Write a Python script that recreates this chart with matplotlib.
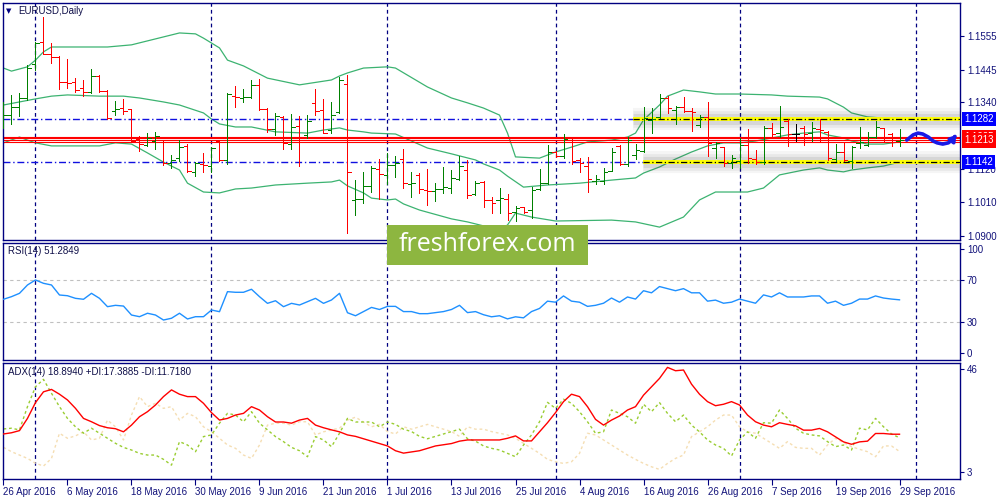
import numpy as np
import pandas as pd
import matplotlib
matplotlib.use('Agg')
import matplotlib.pyplot as plt
from matplotlib.collections import LineCollection
from matplotlib.patches import Rectangle

plt.rcParams['font.family'] = ['Liberation Sans', 'DejaVu Sans']
plt.rcParams['font.size'] = 7

# ---- data ----
dates = pd.bdate_range('2016-04-26', '2016-09-29')

opens = [1.1293, 1.1296, 1.1322, 1.1352, 1.1463, 1.1535, 1.1496, 1.1486, 1.1404, 1.1404,
         1.1385, 1.1372, 1.1424, 1.1375, 1.1309, 1.1319, 1.1316, 1.1218, 1.1198, 1.1211,
         1.1214, 1.1139, 1.1155, 1.1195, 1.1110, 1.1136, 1.1129, 1.1211, 1.1149, 1.1358,
         1.1352, 1.1355, 1.1395, 1.1316, 1.1250, 1.1290, 1.1201, 1.1260, 1.1231, 1.1336,
         1.1313, 1.1247, 1.1306, 1.1398, 1.1018, 1.1021, 1.1064, 1.1119, 1.1100, 1.1133,
         1.1152, 1.1070, 1.1100, 1.1051, 1.1047, 1.1054, 1.1057, 1.1087, 1.1116, 1.1037,
         1.1077, 1.1018, 1.1018, 1.1021, 1.0979, 1.0995, 1.0985, 1.1054, 1.1073, 1.1175,
         1.1162, 1.1221, 1.1149, 1.1129, 1.1080, 1.1080, 1.1113, 1.1195, 1.1136, 1.1165,
         1.1178, 1.1280, 1.1290, 1.1352, 1.1313, 1.1322, 1.1309, 1.1264, 1.1290, 1.1188,
         1.1191, 1.1139, 1.1146, 1.1198, 1.1152, 1.1142, 1.1254, 1.1237, 1.1277, 1.1234,
         1.1254, 1.1237, 1.1250, 1.1241, 1.1152, 1.1175, 1.1146, 1.1205, 1.1198, 1.1224,
         1.1254, 1.1234, 1.1211]
highs = [1.1339, 1.1362, 1.1368, 1.1460, 1.1535, 1.1617, 1.1532, 1.1490, 1.1480, 1.1417,
         1.1411, 1.1447, 1.1427, 1.1378, 1.1342, 1.1349, 1.1316, 1.1227, 1.1237, 1.1241,
         1.1214, 1.1165, 1.1214, 1.1201, 1.1142, 1.1172, 1.1191, 1.1214, 1.1368, 1.1391,
         1.1381, 1.1411, 1.1414, 1.1319, 1.1303, 1.1293, 1.1300, 1.1293, 1.1296, 1.1381,
         1.1349, 1.1339, 1.1421, 1.1427, 1.1083, 1.1110, 1.1129, 1.1152, 1.1172, 1.1162,
         1.1185, 1.1110, 1.1106, 1.1119, 1.1073, 1.1126, 1.1116, 1.1162, 1.1149, 1.1080,
         1.1080, 1.1028, 1.1057, 1.1037, 1.0998, 1.0995, 1.1060, 1.1119, 1.1198, 1.1178,
         1.1234, 1.1224, 1.1155, 1.1159, 1.1100, 1.1123, 1.1188, 1.1198, 1.1224, 1.1201,
         1.1322, 1.1319, 1.1365, 1.1358, 1.1326, 1.1355, 1.1319, 1.1296, 1.1339, 1.1208,
         1.1191, 1.1165, 1.1221, 1.1250, 1.1182, 1.1260, 1.1270, 1.1326, 1.1283, 1.1267,
         1.1260, 1.1273, 1.1283, 1.1244, 1.1201, 1.1208, 1.1195, 1.1257, 1.1241, 1.1277,
         1.1254, 1.1237, 1.1250]
lows = [1.1254, 1.1267, 1.1293, 1.1345, 1.1444, 1.1496, 1.1467, 1.1381, 1.1385, 1.1372,
        1.1358, 1.1368, 1.1372, 1.1283, 1.1296, 1.1300, 1.1211, 1.1178, 1.1195, 1.1185,
        1.1133, 1.1123, 1.1146, 1.1110, 1.1096, 1.1110, 1.1110, 1.1146, 1.1136, 1.1322,
        1.1339, 1.1352, 1.1313, 1.1241, 1.1231, 1.1185, 1.1185, 1.1129, 1.1221, 1.1296,
        1.1237, 1.1237, 1.1303, 1.0910, 1.0969, 1.1008, 1.1044, 1.1021, 1.1070, 1.1093,
        1.1057, 1.1028, 1.1041, 1.1001, 1.1015, 1.1041, 1.1041, 1.1083, 1.1024, 1.1034,
        1.0995, 1.0975, 1.0975, 1.0952, 1.0949, 1.0975, 1.0959, 1.1051, 1.1070, 1.1159,
        1.1155, 1.1136, 1.1110, 1.1044, 1.1070, 1.1070, 1.1113, 1.1133, 1.1129, 1.1152,
        1.1175, 1.1237, 1.1286, 1.1303, 1.1267, 1.1306, 1.1244, 1.1257, 1.1162, 1.1155,
        1.1129, 1.1123, 1.1123, 1.1139, 1.1136, 1.1136, 1.1224, 1.1224, 1.1195, 1.1211,
        1.1198, 1.1211, 1.1208, 1.1149, 1.1146, 1.1146, 1.1123, 1.1188, 1.1195, 1.1221,
        1.1211, 1.1195, 1.1195]
closes = [1.1296, 1.1322, 1.1352, 1.1450, 1.1532, 1.1496, 1.1486, 1.1404, 1.1401, 1.1378,
          1.1372, 1.1424, 1.1375, 1.1286, 1.1316, 1.1309, 1.1211, 1.1201, 1.1221, 1.1227,
          1.1139, 1.1149, 1.1191, 1.1113, 1.1139, 1.1133, 1.1188, 1.1149, 1.1365, 1.1355,
          1.1355, 1.1395, 1.1316, 1.1250, 1.1293, 1.1205, 1.1257, 1.1224, 1.1277, 1.1309,
          1.1237, 1.1296, 1.1411, 1.1110, 1.1021, 1.1064, 1.1123, 1.1103, 1.1133, 1.1139,
          1.1073, 1.1073, 1.1054, 1.1047, 1.1054, 1.1060, 1.1090, 1.1129, 1.1034, 1.1073,
          1.1018, 1.1008, 1.1024, 1.0975, 1.0992, 1.0979, 1.1051, 1.1073, 1.1175, 1.1162,
          1.1218, 1.1146, 1.1139, 1.1087, 1.1087, 1.1110, 1.1175, 1.1136, 1.1214, 1.1182,
          1.1286, 1.1283, 1.1352, 1.1319, 1.1322, 1.1309, 1.1306, 1.1290, 1.1205, 1.1205,
          1.1139, 1.1155, 1.1198, 1.1155, 1.1142, 1.1254, 1.1234, 1.1257, 1.1234, 1.1234,
          1.1234, 1.1254, 1.1247, 1.1155, 1.1175, 1.1149, 1.1191, 1.1208, 1.1224, 1.1257,
          1.1221, 1.1214, 1.1213]

# Bollinger bands (bar index, price)
upper_x = [0, 1, 3, 4, 5, 6, 10, 13, 16, 18, 20, 22, 24, 25, 27, 28, 30, 33, 37, 41, 42, 43, 45, 48, 49,
           53, 56, 58, 60, 62, 63, 64, 67, 69, 71, 73, 76, 78, 79, 80, 82, 83, 85, 87, 89, 92, 96, 98,
           102, 103, 105, 106, 108, 110, 112]
upper = [1.1450, 1.1440, 1.1454, 1.1476, 1.1503, 1.1519, 1.1519, 1.1519, 1.1526, 1.1539, 1.1552,
         1.1565, 1.1562, 1.1548, 1.1516, 1.1476, 1.1457, 1.1417, 1.1395, 1.1411, 1.1424, 1.1434,
         1.1450, 1.1454, 1.1450, 1.1388, 1.1352, 1.1336, 1.1319, 1.1296, 1.1237, 1.1159, 1.1155,
         1.1175, 1.1191, 1.1208, 1.1214, 1.1224, 1.1237, 1.1280, 1.1329, 1.1358, 1.1378, 1.1372,
         1.1365, 1.1365, 1.1362, 1.1358, 1.1355, 1.1349, 1.1322, 1.1303, 1.1290, 1.1286, 1.1286]
middle_x = [0, 2, 4, 6, 8, 12, 15, 17, 20, 22, 25, 26, 27, 29, 31, 34, 38, 40, 42, 43, 45, 46, 49, 51,
            53, 56, 59, 60, 62, 63, 65, 68, 72, 76, 79, 80, 82, 84, 86, 88, 90, 92, 94, 96, 98, 100,
            102, 103, 105, 106, 108, 110, 112]
middle = [1.1329, 1.1339, 1.1349, 1.1358, 1.1362, 1.1358, 1.1358, 1.1352, 1.1339, 1.1329, 1.1303,
          1.1283, 1.1267, 1.1257, 1.1257, 1.1241, 1.1237, 1.1247, 1.1254, 1.1247, 1.1241, 1.1237,
          1.1234, 1.1211, 1.1188, 1.1169, 1.1149, 1.1136, 1.1116, 1.1096, 1.1060, 1.1067, 1.1073,
          1.1083, 1.1090, 1.1106, 1.1126, 1.1152, 1.1175, 1.1195, 1.1205, 1.1205, 1.1211, 1.1221,
          1.1231, 1.1237, 1.1241, 1.1231, 1.1221, 1.1211, 1.1201, 1.1201, 1.1208]
lower_x = [0, 2, 3, 4, 6, 12, 14, 16, 18, 20, 22, 23, 25, 27, 29, 31, 34, 38, 41, 42, 43, 45, 46, 48,
           49, 50, 52, 56, 58, 60, 62, 63, 64, 66, 69, 76, 79, 82, 85, 87, 89, 90, 93, 95, 97, 100,
           102, 103, 105, 106, 108, 110, 112]
lower = [1.1205, 1.1224, 1.1214, 1.1205, 1.1195, 1.1195, 1.1205, 1.1201, 1.1172, 1.1142, 1.1116,
         1.1073, 1.1044, 1.1041, 1.1054, 1.1057, 1.1067, 1.1073, 1.1077, 1.1083, 1.1064, 1.1041,
         1.1024, 1.1018, 1.1021, 1.1005, 1.0985, 1.0956, 1.0946, 1.0933, 1.0920, 1.0936, 1.0975,
         1.0962, 1.0949, 1.0952, 1.0946, 1.0929, 1.0962, 1.1018, 1.1044, 1.1044, 1.1044, 1.1057,
         1.1100, 1.1116, 1.1123, 1.1116, 1.1110, 1.1116, 1.1123, 1.1129, 1.1142]

rsi = [51.8, 54.3, 57.5, 65.5, 70.3, 67.1, 65.5, 55.9, 55.2, 52.7,
       51.8, 57.5, 52.7, 44.7, 46.0, 45.3, 36.7, 35.1, 38.4, 36.7,
       31.9, 33.6, 38.4, 32.9, 35.1, 35.1, 41.5, 39.9, 59.1, 58.5,
       58.5, 61.4, 54.3, 47.9, 50.4, 44.7, 47.9, 46.3, 49.5, 52.7,
       47.9, 51.1, 57.5, 38.9, 36, 40, 44, 42, 45, 45,
       40, 40, 38, 38, 39, 40, 42, 46, 39, 40,
       37, 35, 36, 33, 35, 34, 40, 43, 50, 49,
       55, 50, 49, 45, 46, 48, 53, 49, 54, 52,
       60, 58, 64, 62, 60, 62, 58, 58, 50, 51,
       48, 49, 52, 50, 48, 56, 54, 58, 54, 54,
       54, 55, 55, 48, 50, 46, 48, 52, 52, 55,
       53, 52, 51.28]

adx = [19.0, 19.5, 20.4, 25.5, 32.1, 36.6, 37.6, 35.6, 33.2, 29.7, 25.5, 24.1, 22.5, 21.6, 21.2,
       19.9, 22.7, 26.2, 28.3, 31.1, 34.6, 37.4, 35.6, 34.6, 34.6, 31.8, 27.9, 24.8, 25.5, 26.9,
       27.6, 30.4, 29.0, 26.2, 24.0, 24.0, 23.5, 24.8, 25.5, 22.7, 21.6, 20.7, 19.9, 18.6,
       18, 17, 16, 15, 14, 12, 11, 11.5, 12, 13, 14, 14.5, 15, 16, 16.5, 16.5, 16.5, 16.5,
       16.5, 17.2, 18.2, 16.1, 16.1, 19.9, 23.7, 27.9, 32.5, 35.6, 34.6, 30.4, 25.1, 22.7, 24.8,
       26.5, 29.0, 30.4, 35.2, 38.7, 42.2, 46.8, 45.4, 45.7, 39.8, 35.6, 32.5, 30.8, 31.4, 32.5,
       31.1, 26.9, 24.1, 22.7, 22.0, 23.7, 23.0, 22.4, 20.6, 20.6, 21.3, 19.9, 17.8, 15.7, 14.7,
       15.7, 16.0, 19.2, 19.2, 18.9, 18.9]
plus_di = [21.1, 21.4, 20.7, 30.4, 38.7, 41.8, 36.0, 30.4, 25.5, 22.0, 19.3, 21.4, 19.3, 17.2, 15.1,
           13.4, 12.3, 10.9, 10.2, 10.2, 8.4, 6.0, 15.8, 14.4, 11.6, 17.9, 18.6, 23.5, 27.6, 26.9,
           24.1, 28.3, 23.5, 20.7, 17.9, 15.8, 13.4, 12.0, 9.5, 17.9, 16.5, 13.7, 19.3, 25.5,
           24, 24, 24, 22, 24, 23, 21, 20, 18, 17, 18, 19, 20, 21, 17, 16, 14, 13,
           12.3, 10.9, 9.5, 14.4, 18.6, 24.1, 32.2, 29.7, 33.5, 31.8, 28.3, 24.1, 19.3, 19.9, 29.0,
           27.6, 26.2, 23.5, 31.4, 28.3, 32.1, 27.6, 24.1, 26.9, 22.7, 19.9, 16.5, 14.4, 13.0, 9.8,
           16.5, 19.9, 17.2, 23.7, 23.5, 29.0, 25.5, 21.4, 19.3, 18.6, 18.2, 15.8, 13.7, 14.4, 12.3,
           21.4, 20.7, 25.5, 22.0, 19.0, 17.4]
minus_di = [13.4, 11.6, 10.2, 8.8, 6.8, 5.6, 8.8, 19.3, 17.2, 18.2, 19.9, 16.5, 17.2, 24.8, 22.0,
            16.5, 26.9, 34.6, 30.4, 31.8, 29.7, 30.4, 24.8, 27.6, 26.2, 22.0, 19.9, 17.2, 14.4, 13.0,
            10.2, 8.8, 14.4, 22.7, 23.5, 23.5, 22.7, 24.1, 24.1, 18.6, 19.9, 20.7, 21.4, 24.8,
            26, 24, 22, 23, 20, 19, 22, 21, 22, 23, 22, 21, 20, 18, 22, 21, 21, 20,
            19.3, 18.6, 17.2, 15.1, 13.0, 10.9, 8.4, 7.4, 6.7, 7.4, 10.9, 19.3, 18.6, 16.5, 14.4,
            12.3, 10.2, 8.4, 6.7, 5.3, 4.2, 6.7, 8.8, 10.2, 17.9, 19.9, 22.0, 24.8, 26.9, 26.9,
            22.0, 19.9, 19.3, 17.2, 15.1, 13.0, 15.8, 13.4, 13.0, 13.0, 10.2, 14.4, 17.2, 15.4, 13.7,
            12.6, 11.6, 9.5, 14.0, 14.0, 11.7]

price_ticks = [1.1555, 1.1445, 1.1340, 1.1120, 1.1010, 1.0900]
resist, support = 1.1282, 1.1142
resist_from, support_from = 78.7, 79.9      # where the yellow zone lines begin
red_levels = [1.1225, 1.1220, 1.1214, 1.1209]
bid, bid2 = 1.1213, 1.1225

wave_x = [112.9, 113.7, 114.3, 114.9, 115.6, 116.2, 116.7, 117.4, 118.1, 118.7]
wave_y = [1.1214, 1.1231, 1.1237, 1.1234, 1.1224, 1.1211, 1.1205, 1.1201, 1.1205, 1.1218]
wave_tip = (119.3, 1.1238)

# ---- styling ----
NAVY = '#000080'
LBL = '#12127a'
GREEN = '#008000'
RED = '#ff0000'
BAND = '#3cb371'

fig = plt.figure(figsize=(10, 5), dpi=100)
ax1 = fig.add_axes([0.003, 0.52, 0.957, 0.474])
ax2 = fig.add_axes([0.003, 0.28, 0.957, 0.234])
ax3 = fig.add_axes([0.003, 0.042, 0.957, 0.232])

x0, x1 = -0.06, 119.56
for ax in (ax1, ax2, ax3):
    ax.set_xlim(x0, x1)
    for s in ax.spines.values():
        s.set_color(NAVY)
        s.set_linewidth(1)
    ax.yaxis.tick_right()
    ax.tick_params(axis='y', length=3, width=0.8, pad=2, color=NAVY, labelcolor=LBL, labelsize=7)

# month separators
allday = pd.bdate_range('2016-04-26', '2016-10-31')
seps = [i for i in range(1, len(allday)) if allday[i].month != allday[i - 1].month]
for ax in (ax1, ax2, ax3):
    for s in seps:
        ax.axvline(s, color=NAVY, lw=0.9, ls=(0, (3, 2.5)), zorder=1)

# ---- price panel ----
ax1.set_ylim(1.08868, 1.16631)
ax1.set_xticks([])
ax1.set_yticks(price_ticks)
ax1.set_yticklabels([f'{p:.4f}' for p in price_ticks])

ax1.plot(upper_x, upper, color=BAND, lw=0.9, zorder=2)
ax1.plot(middle_x, middle, color=BAND, lw=0.9, zorder=2)
ax1.plot(lower_x, lower, color=BAND, lw=0.9, zorder=2)

for p in red_levels:
    ax1.axhline(p, color=RED, lw=0.8, zorder=2)

# blue dash-dot levels and the yellow zone lines
ax1.plot([x0, resist_from], [resist, resist], color='#1010e0', lw=1, dashes=(5, 2, 1, 2), zorder=2)
ax1.plot([x0, support_from], [support, support], color='#1010e0', lw=1, dashes=(5, 2, 1, 2), zorder=2)
for lvl, start in ((resist, resist_from), (support, support_from)):
    for w, a in ((16, 0.05), (12, 0.07), (8, 0.1)):
        ax1.plot([start, x1], [lvl, lvl], color='#404040', lw=w, alpha=a,
                 solid_capstyle='butt', zorder=3)
    ax1.plot([start, x1], [lvl, lvl], color='#ffff00', lw=2.8, solid_capstyle='butt', zorder=3)
    ax1.plot([start, x1], [lvl, lvl], color='black', lw=0.9, dashes=(5, 2, 1, 2), zorder=3)

# OHLC bars
segs, cols = [], []
for i, (o, h, l, c) in enumerate(zip(opens, highs, lows, closes)):
    col = GREEN if c > o else (RED if c < o else 'black')
    segs += [[(i, l), (i, h)], [(i - 0.4, o), (i, o)], [(i, c), (i + 0.4, c)]]
    cols += [col] * 3
ax1.add_collection(LineCollection(segs, colors=cols, linewidths=0.6, antialiased=False, zorder=4))

# forecast wave
ax1.plot(wave_x, wave_y, color='#1a1ae6', lw=2.6, solid_capstyle='round', zorder=5)
ax1.annotate('', xy=wave_tip, xytext=(wave_x[-1], wave_y[-1]),
             arrowprops=dict(arrowstyle='-|>,head_length=0.45,head_width=0.3',
                             color='#1a1ae6', lw=2.6), zorder=5)

# price labels on the right
def tag(ax, price, fc, z):
    ax.annotate(f'{price:.4f}', xy=(1, price), xycoords=('axes fraction', 'data'),
                xytext=(3.2, 0), textcoords='offset points', va='center', ha='left',
                color='white', fontsize=7, annotation_clip=False, zorder=z,
                bbox=dict(boxstyle='square,pad=0.22', fc=fc, ec='none'))

tag(ax1, resist, '#0000ff', 6)
tag(ax1, support, '#0000ff', 6)
tag(ax1, bid2, RED, 6)
tag(ax1, bid, RED, 7)

fig.text(0.006, 0.978, '\u25bc', fontsize=5, color=NAVY, va='center', family='DejaVu Sans')
fig.text(0.018, 0.978, 'EURUSD,Daily', fontsize=7, color='#10104a', va='center')

# ---- RSI panel ----
ax2.set_ylim(-6.42, 105.75)
ax2.set_xticks([])
ax2.set_yticks([0, 30, 70, 100])
ax2.set_yticklabels(['0', '30', '70', '100'])
for lv in (30, 70):
    ax2.axhline(lv, color='#c0c0c0', lw=0.8, ls=(0, (3, 3)), zorder=1)
ax2.plot(range(len(rsi)), rsi, color='#1e90ff', lw=1, zorder=3)
ax2.text(0.005, 0.93, 'RSI(14) 51.2849', transform=ax2.transAxes, va='center',
         fontsize=7, color='#10104a')

# ---- ADX panel ----
ax3.set_ylim(0.2, 48.63)
ax3.set_yticks([3, 46])
ax3.set_yticklabels(['3', '46'])
ax3.plot(range(len(minus_di)), minus_di, color='#f5deb3', lw=1, dashes=(2, 2), zorder=2)
ax3.plot(range(len(plus_di)), plus_di, color='#9acd32', lw=1, dashes=(2, 2), zorder=2)
ax3.plot(range(len(adx)), adx, color=RED, lw=1, zorder=3)
ax3.text(0.005, 0.922, 'ADX(14) 18.8940 +DI:17.3885 -DI:11.7180', transform=ax3.transAxes,
         va='center', fontsize=7, color='#10104a')

tick_pos = list(range(0, len(dates), 8))
ax3.set_xticks(tick_pos)
ax3.set_xticklabels([f'{dates[i].day} {dates[i]:%b %Y}' for i in tick_pos], ha='left')
ax3.tick_params(axis='x', length=4, width=0.8, pad=1.5, color=NAVY, labelcolor=LBL, labelsize=7)

# watermark
fig.patches.append(Rectangle((0.387, 0.47), 0.201, 0.08, transform=fig.transFigure,
                             facecolor='#8db640', edgecolor='none', zorder=10))
fig.text(0.4875, 0.511, 'freshforex.com', color='white', fontsize=18, family='Open Sans',
         ha='center', va='center', zorder=11)

fig.savefig('out.png', dpi=100, facecolor='white')
